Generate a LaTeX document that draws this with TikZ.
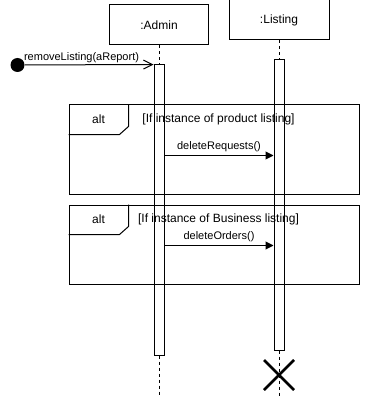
\documentclass[tikz,border=0pt]{standalone}
\usepackage{fontspec}
\setmainfont{Liberation Sans}
\usetikzlibrary{arrows.meta,calc}

\begin{document}
\begin{tikzpicture}[x=1pt, y=-1pt, line width=1pt,
	head/.style={draw, minimum width=99pt, minimum height=40pt, inner sep=0pt, font=\fontsize{12}{14}\selectfont},
	bar/.style={draw, fill=white, minimum width=10pt, minimum height=290pt, inner sep=0pt},
	life/.style={dash pattern=on 3pt off 3pt},
	frag/.style={draw, minimum width=290pt, inner sep=0pt},
	call/.style={-{Triangle[length=8pt, width=8pt]}},
	lbl/.style={font=\fontsize{11}{13}\selectfont, inner sep=1pt},
	guard/.style={font=\fontsize{12}{14}\selectfont, inner sep=0pt}]
	\useasboundingbox (0,0) rectangle (370,401);

	% lifelines
	\node[head] (admin) at (159,25) {:Admin};
	\node[head, minimum width=100pt] (listing) at (279,20) {:Listing};
	\node[bar] (adminAct) at (159,210) {};
	\node[bar] (listingAct) at (279,205) {};
	\coordinate (adminEnd) at (159,395);
	\coordinate (listingEnd) at (279,375);
	\draw[life] (admin.south) -- (adminAct.north);
	\draw[life] (adminAct.south) -- (adminEnd);
	\draw[life] (listing.south) -- (listingAct.north);
	\draw[life] (listingAct.south) -- (listingEnd) -- ++(0,21);

	% found message
	\node[circle, fill, inner sep=0pt, minimum size=14pt] (start) at (17.5,65) {};
	\draw[-{Straight Barb[length=9pt, width=9pt]}] (start) -- node[lbl, above, pos=0.44] {removeListing(aReport)} (adminAct.north west);

	% alt fragments
	\node[frag, minimum height=89pt] (alt1) at (214,149.5) {};
	\node[frag, minimum height=79pt] (alt2) at (214,244.5) {};
	\foreach \f in {alt1, alt2} {
		\draw (\f.north west) ++(60,0) -- ++(0,22) -- ++(-9,8) -- ++(-51,0);
		\node[guard] at ($(\f.north west)+(30,15)$) {alt};
	}
	\node[guard] (g1) at ($(alt1.north west)+(150,15)$) {[If instance of product listing]};
	\node[guard] (g2) at ($(alt2.north west)+(150,15)$) {[If instance of Business listing]};

	\draw[call] (adminAct.east |- 0,155.5) -- node[lbl, above=2pt] {deleteRequests()} (listingAct.west |- 0,155.5);
	\draw[call] (adminAct.east |- 0,245.5) -- node[lbl, above=2pt] {deleteOrders()} (listingAct.west |- 0,245.5);

	% destruction
	\draw[line width=2.5pt] ($(listingEnd)+(-15,-15)$) -- ($(listingEnd)+(15,15)$)
		($(listingEnd)+(15,-15)$) -- ($(listingEnd)+(-15,15)$);
\end{tikzpicture}
\end{document}
